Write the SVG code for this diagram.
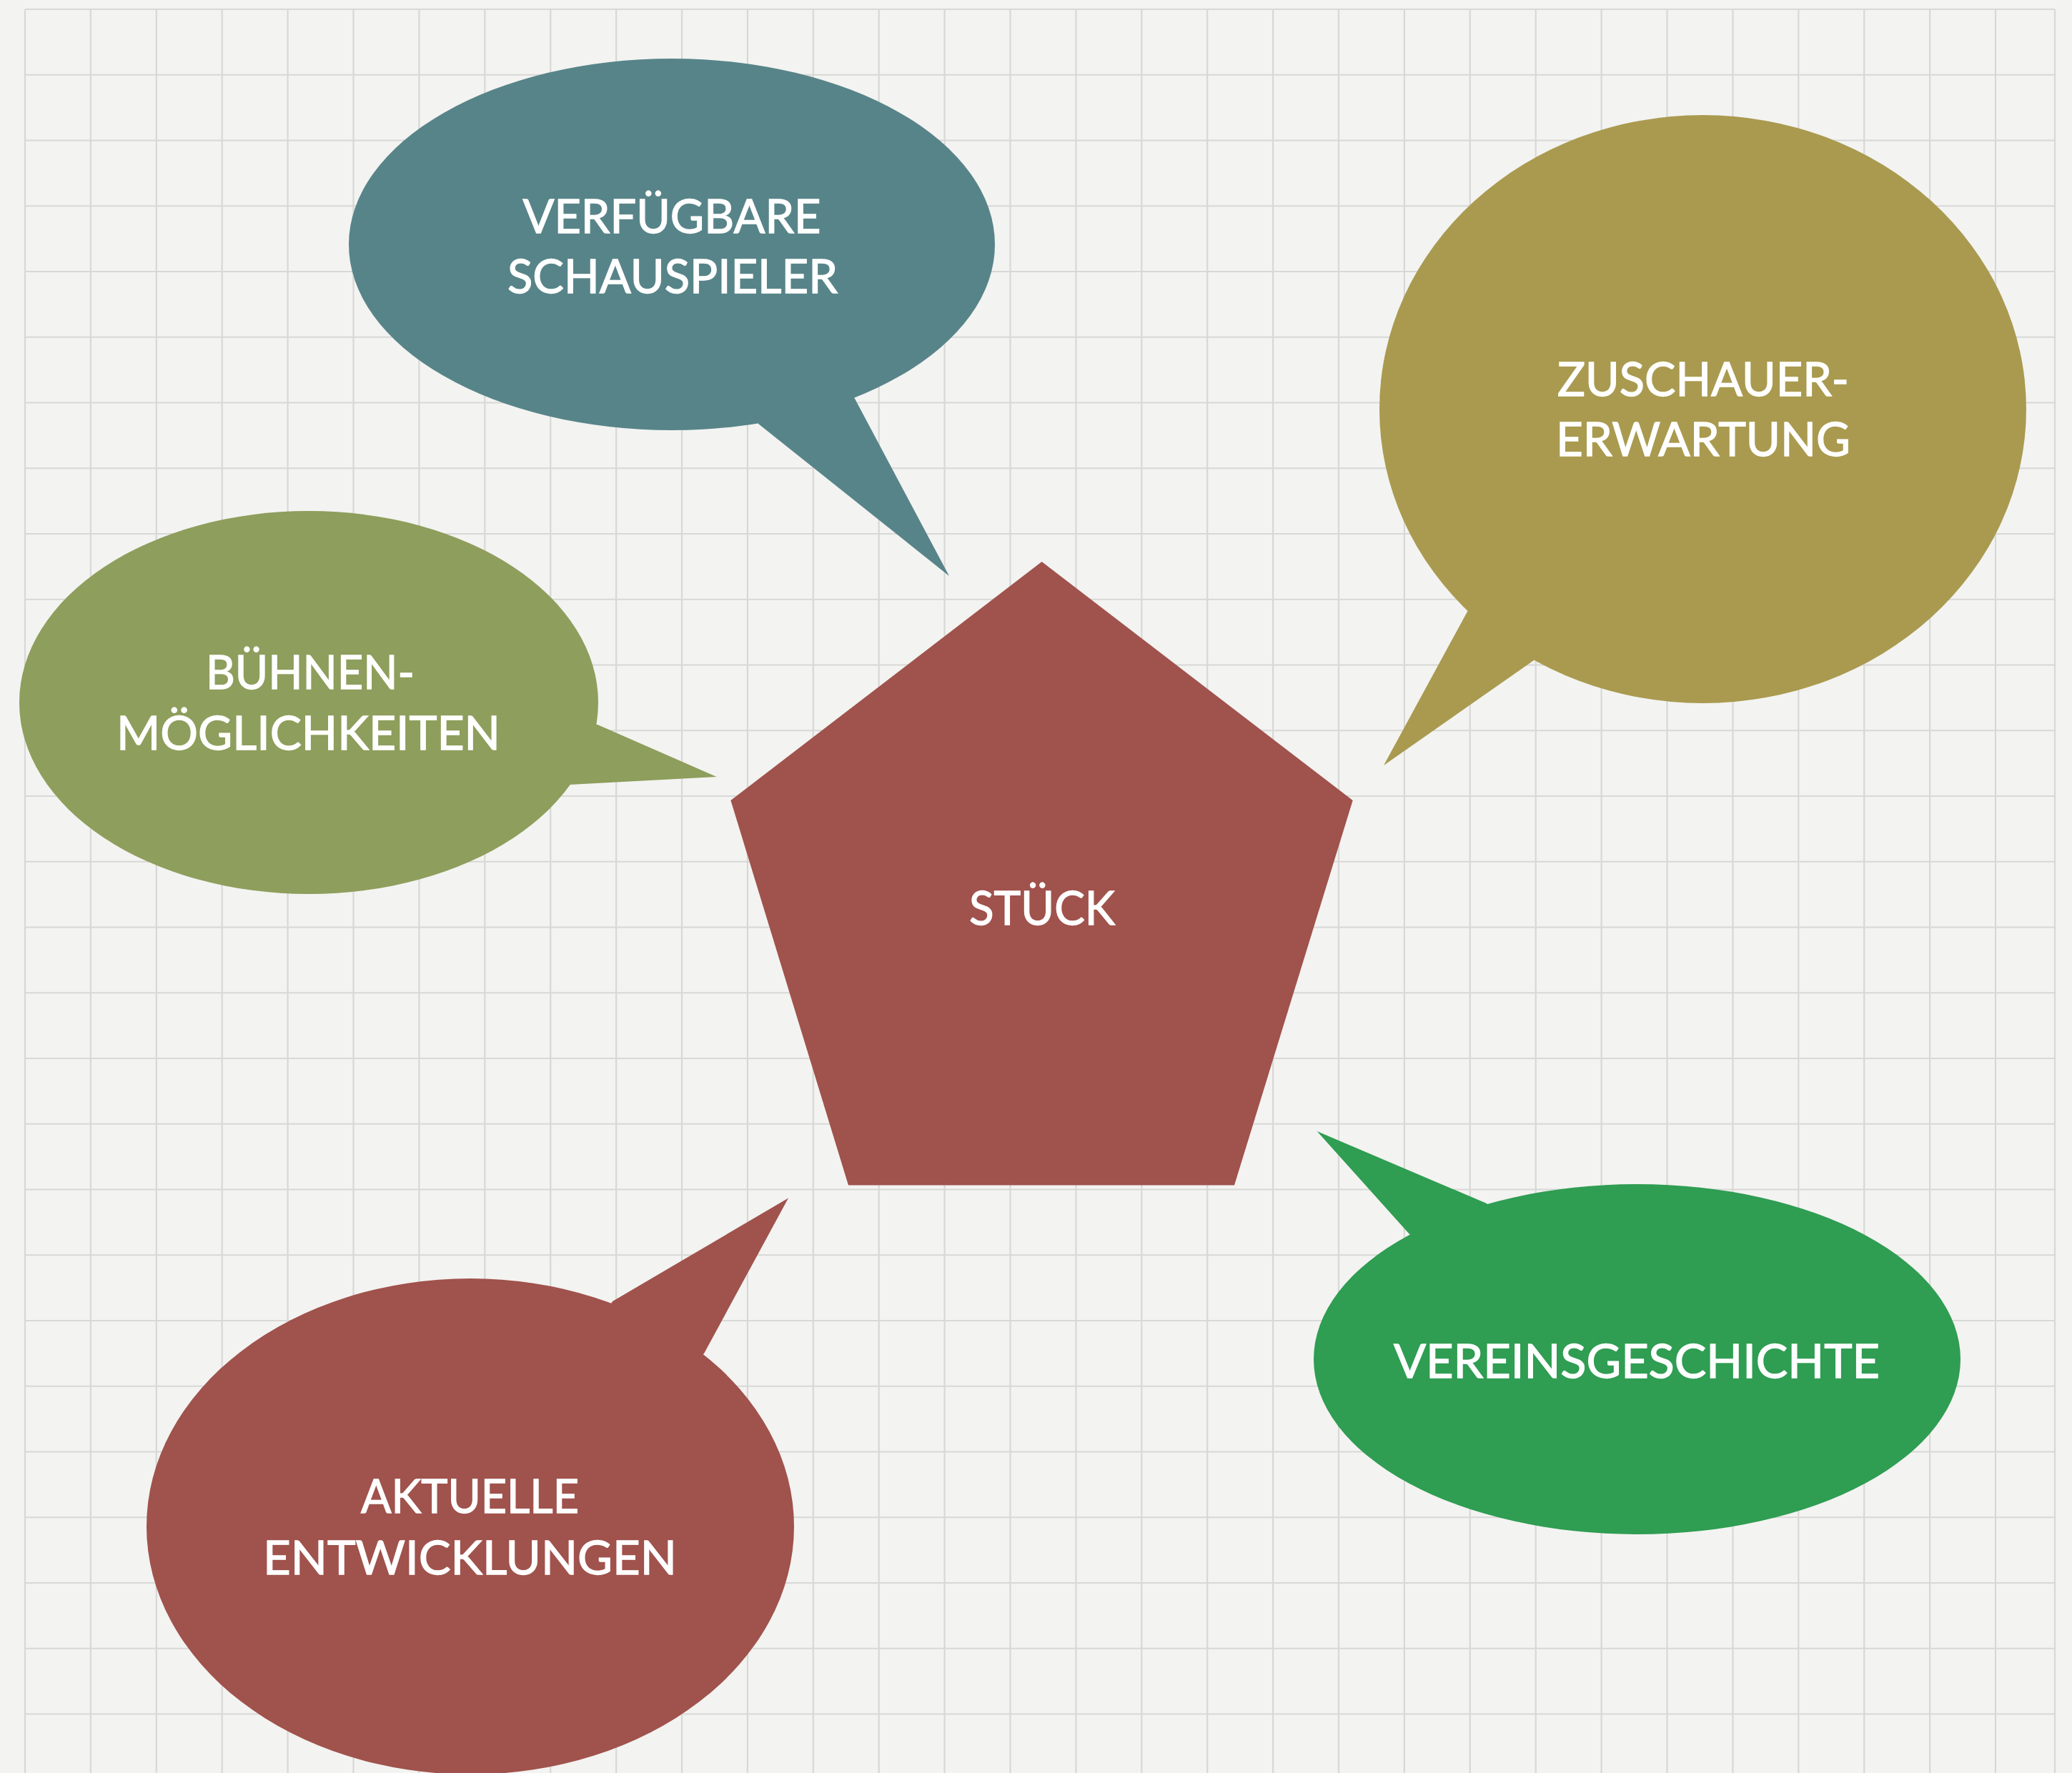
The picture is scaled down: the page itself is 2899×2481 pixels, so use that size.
<svg xmlns="http://www.w3.org/2000/svg" width="2899" height="2481" viewBox="0 0 2899 2481">
<style>
.grid{fill:none;stroke:#d8d8d6;stroke-width:2.2}
.lbl{font-family:Lato,"Noto Sans","Liberation Sans",sans-serif;font-size:66px;fill:#ffffff;stroke:#ffffff;stroke-width:1.3;text-anchor:middle}
.teal{fill:#578489}
.gold{fill:#a99a4f}
.olive{fill:#8e9e5c}
.red{fill:#a0524c}
.green{fill:#2f9d52}
</style>
<rect x="0" y="0" width="2899" height="2481" fill="#f3f3f1"/>
<g id="grid">
<path class="grid" d="M35 13V2481M126.9 13V2481M218.8 13V2481M310.7 13V2481M402.6 13V2481M494.5 13V2481M586.4 13V2481M678.3 13V2481M770.2 13V2481M862.1 13V2481M954 13V2481M1045.9 13V2481M1137.8 13V2481M1229.7 13V2481M1321.6 13V2481M1413.5 13V2481M1505.4 13V2481M1597.3 13V2481M1689.2 13V2481M1781.1 13V2481M1873 13V2481M1964.9 13V2481M2056.8 13V2481M2148.7 13V2481M2240.6 13V2481M2332.5 13V2481M2424.4 13V2481M2516.3 13V2481M2608.2 13V2481M2700.1 13V2481M2792 13V2481M2875 13V2481"/>
<path class="grid" d="M35 13H2875M35 104.75H2875M35 196.5H2875M35 288.25H2875M35 380H2875M35 471.75H2875M35 563.5H2875M35 655.25H2875M35 747H2875M35 838.75H2875M35 930.5H2875M35 1022.25H2875M35 1114H2875M35 1205.75H2875M35 1297.5H2875M35 1389.25H2875M35 1481H2875M35 1572.75H2875M35 1664.5H2875M35 1756.25H2875M35 1848H2875M35 1939.75H2875M35 2031.5H2875M35 2123.25H2875M35 2215H2875M35 2306.75H2875M35 2398.5H2875"/>
</g>
<g id="connectors"></g>
<g id="node-stueck">
<polygon class="red" points="1457.6,786 1892.7,1120 1727,1658.6 1187,1658.6 1022.4,1120"/>
<text class="lbl" x="1458" y="1294" textLength="204" lengthAdjust="spacingAndGlyphs">STÜCK</text>
</g>
<g id="node-schauspieler">
<ellipse class="teal" cx="940" cy="342" rx="452" ry="260"/>
<polygon class="teal" points="1061,593 1328,806 1195,556 940,342"/>
<text class="lbl" x="940" y="326" textLength="417" lengthAdjust="spacingAndGlyphs">VERFÜGBARE</text>
<text class="lbl" x="941" y="410" textLength="462" lengthAdjust="spacingAndGlyphs">SCHAUSPIELER</text>
</g>
<g id="node-zuschauer">
<ellipse class="gold" cx="2382.5" cy="572.5" rx="452.5" ry="411.5"/>
<polygon class="gold" points="2054,854 1936,1071 2146,924 2382,572"/>
<text class="lbl" x="2383" y="554" textLength="408" lengthAdjust="spacingAndGlyphs">ZUSCHAUER-</text>
<text class="lbl" x="2383" y="638" textLength="412" lengthAdjust="spacingAndGlyphs">ERWARTUNG</text>
</g>
<g id="node-buehne">
<ellipse class="olive" cx="432" cy="983" rx="405" ry="268"/>
<polygon class="olive" points="836,1014 1002.6,1087 797,1098 432,983"/>
<text class="lbl" x="434" y="964" textLength="292" lengthAdjust="spacingAndGlyphs">BÜHNEN-</text>
<text class="lbl" x="431.5" y="1049" textLength="537" lengthAdjust="spacingAndGlyphs">MÖGLICHKEITEN</text>
</g>
<g id="node-aktuell">
<ellipse class="red" cx="658" cy="2136" rx="453" ry="347"/>
<polygon class="red" points="857,1821 1103,1676.5 985,1894 658,2136"/>
<text class="lbl" x="657.5" y="2117" textLength="305" lengthAdjust="spacingAndGlyphs">AKTUELLE</text>
<text class="lbl" x="657.5" y="2203" textLength="579" lengthAdjust="spacingAndGlyphs">ENTWICKLUNGEN</text>
</g>
<g id="node-verein">
<ellipse class="green" cx="2290.5" cy="1902" rx="452.5" ry="245"/>
<polygon class="green" points="1972,1727 1842.7,1583 2080,1684 2290,1902"/>
<text class="lbl" x="2290" y="1928" textLength="680" lengthAdjust="spacingAndGlyphs">VEREINSGESCHICHTE</text>
</g>
</svg>
